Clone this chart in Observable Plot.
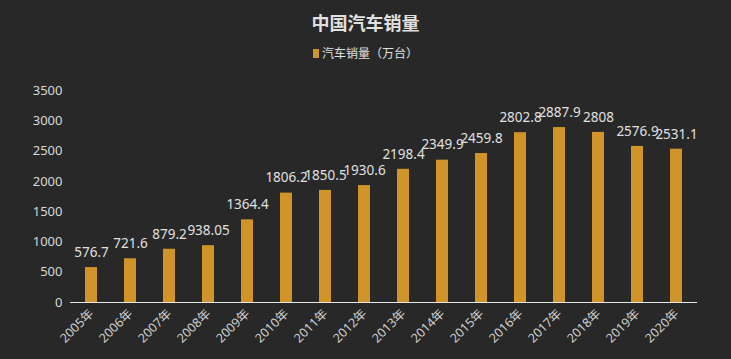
<!DOCTYPE html>
<html><head><meta charset="utf-8">
<script src="https://cdn.jsdelivr.net/npm/d3@7"></script>
<script src="https://cdn.jsdelivr.net/npm/@observablehq/plot@0.6"></script>
<style>
html,body{margin:0;padding:0;background:#282828;}
#wrap{width:731px;height:359px;background:#282828;font-family:"Noto Sans CJK SC","Noto Sans",sans-serif;overflow:hidden;}
#title{height:44px;line-height:44px;text-align:center;color:#e0e0e0;font-size:18px;font-weight:bold;}
#legend{height:31px;display:flex;justify-content:center;align-items:flex-start;color:#e0e0e0;font-size:12px;line-height:18px;}
#legend .sw{display:inline-block;width:6px;height:9px;background:#D09428;margin-right:3px;margin-top:5px;}
</style></head>
<body><div id="wrap"><div id="title">中国汽车销量</div><div id="legend"><span class="sw"></span><span>汽车销量（万台）</span></div><div id="chart"></div></div>
<script>
const years = ["2005年","2006年","2007年","2008年","2009年","2010年","2011年","2012年","2013年","2014年","2015年","2016年","2017年","2018年","2019年","2020年"];
const sales = [576.7,721.6,879.2,938.05,1364.4,1806.2,1850.5,1930.6,2198.4,2349.9,2459.8,2802.8,2887.9,2808,2576.9,2531.1];
const yTicks = [0,500,1000,1500,2000,2500,3000,3500];
const data = years.map((y,i)=>({year:y, value:sales[i]}));
const chart = Plot.plot({
  width:731, height:284,
  marginLeft:70, marginRight:34, marginTop:15, marginBottom:57,
  style:{background:"#282828", color:"#d8d8d8", fontFamily:"'Noto Sans','Noto Sans CJK SC',sans-serif", fontSize:"12px"},
  x:{domain:years, paddingInner:0.69, paddingOuter:0.345, label:null},
  y:{domain:[0,3500], label:null},
  marks:[
    Plot.axisY({ticks:yTicks, tickFormat:d3.format("d"), tickSize:0, tickPadding:8, fontSize:13, fill:"#d8d8d8", label:null}),
    Plot.axisX({tickSize:0, tickRotate:-45, tickPadding:9, fontSize:12.5, fill:"#d0d0d0", label:null}),
    Plot.barY(data,{x:"year", y:"value", fill:"#D09428"}),
    Plot.ruleY([0],{stroke:"#e6e6e6", strokeWidth:1}),
    Plot.text(data,{x:"year", y:"value", text:d=>String(d.value), dy:-15, fill:"#e0e0e0", fontSize:13.5})
  ]
});
document.getElementById("chart").appendChild(chart);
</script></body></html>
